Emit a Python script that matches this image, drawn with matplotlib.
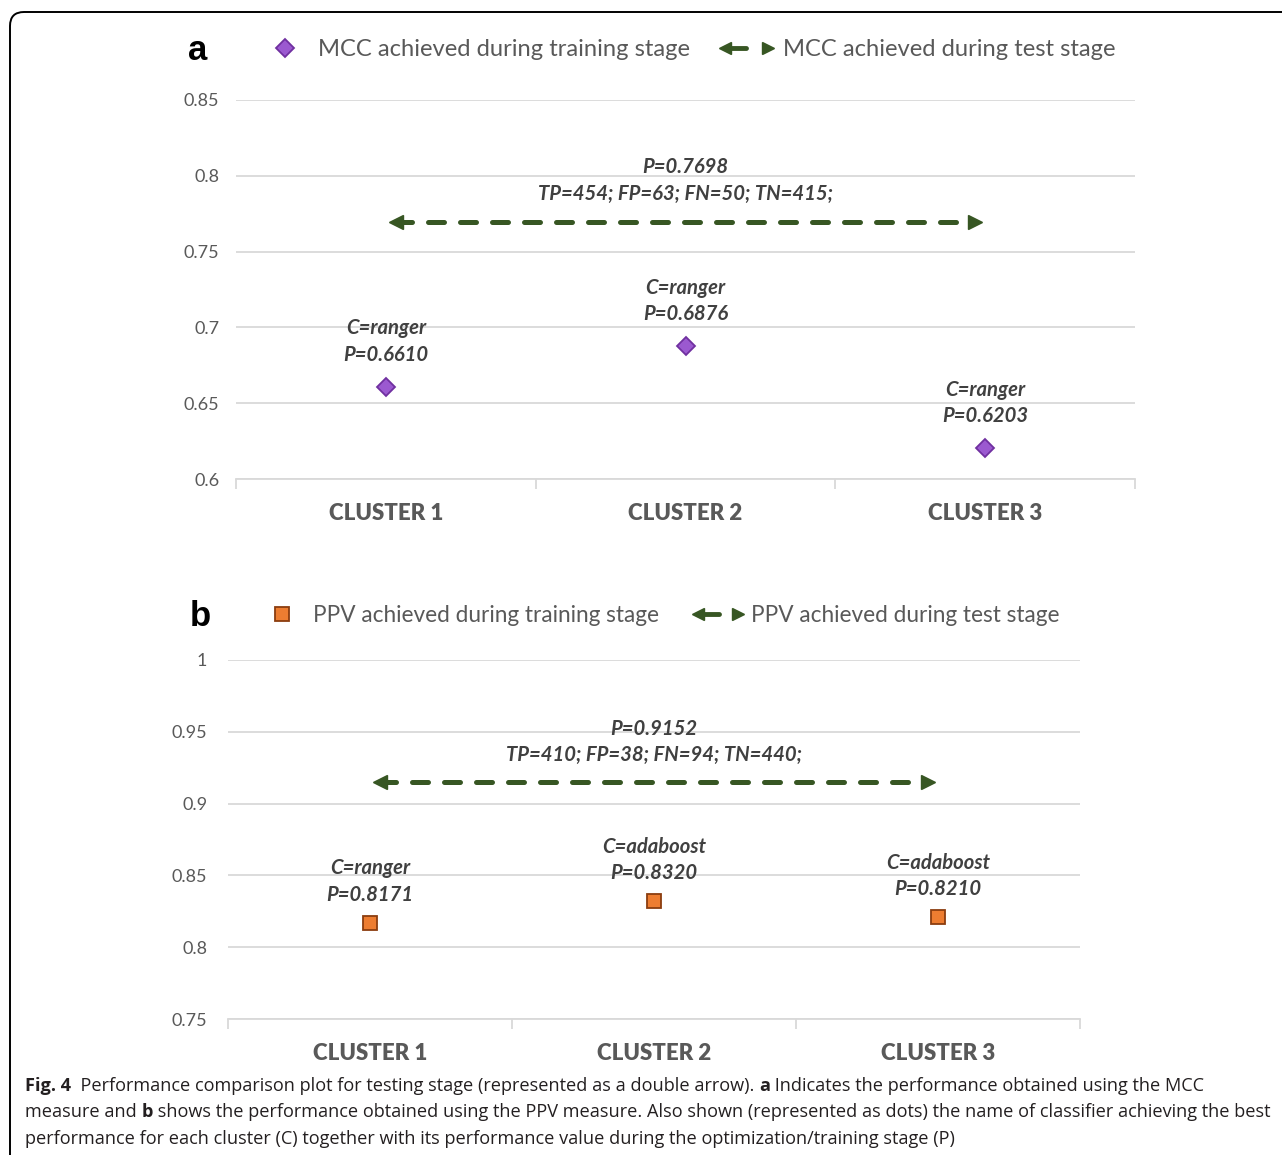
import numpy as np
import matplotlib
matplotlib.use('Agg')
import matplotlib.pyplot as plt
from matplotlib.lines import Line2D
from matplotlib.patches import FancyBboxPatch

# data
clusters = ['CLUSTER 1', 'CLUSTER 2', 'CLUSTER 3']
mcc_train = [0.6610, 0.6876, 0.6203]
mcc_clf = ['ranger', 'ranger', 'ranger']
mcc_test = 0.7698
mcc_conf = 'TP=454; FP=63; FN=50; TN=415;'
ppv_train = [0.8171, 0.8320, 0.8210]
ppv_clf = ['ranger', 'adaboost', 'adaboost']
ppv_test = 0.9152
ppv_conf = 'TP=410; FP=38; FN=94; TN=440;'

mcc_ticks = [0.6, 0.65, 0.7, 0.75, 0.8, 0.85]
ppv_ticks = [0.75, 0.8, 0.85, 0.9, 0.95, 1.0]

W, H = 1282, 1155
GRID = '#d9d9d9'
TXT = '#404040'
LEG = '#595959'
GREEN = '#375623'
CHART_FONT = 'Lato'
ANN = 14.6

fig = plt.figure(figsize=(W / 100, H / 100), dpi=100)


def px(x, y):
    # pixel (from top-left) to figure coords
    return x / W, 1 - y / H


def panel(rect, train, clf, test, conf, ticks, marker, mfc, mec, ms, lab_off, tick_pad, top_off):
    ax = fig.add_axes(rect)
    xs = np.arange(len(clusters)) + 0.5
    ax.set_xlim(0, len(clusters))
    ax.set_ylim(ticks[0], ticks[-1])
    ax.set_yticks(ticks)
    ax.set_yticklabels(['%g' % t for t in ticks], fontsize=13, color=LEG, family=CHART_FONT)
    ax.tick_params(axis='y', length=0, pad=tick_pad)
    ax.set_xticks(np.arange(len(clusters) + 1))
    ax.set_xticklabels([])
    ax.set_xticks(xs, minor=True)
    ax.set_xticklabels(clusters, minor=True, fontsize=16, fontweight='heavy', color=LEG, family=CHART_FONT)
    ax.tick_params(axis='x', which='major', length=7, color=GRID, width=1.3, direction='out')
    ax.tick_params(axis='x', which='minor', length=0, pad=17.5)
    for s in ['top', 'right', 'left']:
        ax.spines[s].set_visible(False)
    ax.spines['bottom'].set_color(GRID)
    ax.spines['bottom'].set_linewidth(1.3)
    ax.grid(axis='y', color=GRID, linewidth=1.3)
    ax.set_axisbelow(True)

    # test stage double arrow
    d = 0.035
    ax.plot([xs[0] + d, xs[-1] - d], [test, test], color=GREEN, lw=3.6,
            dashes=(3.2, 3.2), dash_capstyle='round', zorder=3)
    ax.plot([xs[0] + d], [test], marker='<', color=GREEN, ms=10, zorder=4)
    ax.plot([xs[-1] - d], [test], marker='>', color=GREEN, ms=10, zorder=4)
    ax.annotate('P=%.4f' % test, (xs[1], test), xytext=(0, top_off + 19), textcoords='offset points',
                ha='center', va='center', fontsize=ANN, fontweight='bold', style='italic',
                color=TXT, family=CHART_FONT)
    ax.annotate(conf, (xs[1], test), xytext=(0, top_off), textcoords='offset points',
                ha='center', va='center', fontsize=ANN, fontweight='bold', style='italic',
                color=TXT, family=CHART_FONT)

    # training stage points
    ax.plot(xs, train, ls='none', marker=marker, mfc=mfc, mec=mec, ms=ms, mew=1.3, zorder=4)
    for x, v, c in zip(xs, train, clf):
        ax.annotate('P=%.4f' % v, (x, v), xytext=(0, lab_off), textcoords='offset points',
                    ha='center', va='center', fontsize=ANN, fontweight='bold', style='italic',
                    color=TXT, family=CHART_FONT)
        ax.annotate('C=' + c, (x, v), xytext=(0, lab_off + 19), textcoords='offset points',
                    ha='center', va='center', fontsize=ANN, fontweight='bold', style='italic',
                    color=TXT, family=CHART_FONT)
    return ax


def legend(y, letter, lx, m1x, marker, mfc, mec, ms, t1x, t1, ax0, tri_x, t2x, t2, fs):
    fig.text(*px(lx, y + 2), letter, ha='center', va='center', fontsize=25,
             fontweight='bold', family='Liberation Sans')
    fig.add_artist(Line2D([m1x / W], [1 - y / H], marker=marker, mfc=mfc, mec=mec, ms=ms,
                          mew=1.3, ls='none', transform=fig.transFigure))
    fig.text(*px(t1x, y + 2), t1, ha='left', va='center', fontsize=fs, color=LEG, family=CHART_FONT)
    # small arrow symbol
    fig.add_artist(Line2D([(ax0 + 8) / W, (ax0 + 26) / W], [1 - y / H, 1 - y / H], color=GREEN,
                          lw=3.5, solid_capstyle='round', transform=fig.transFigure))
    fig.add_artist(Line2D([(ax0 + 5) / W], [1 - y / H], marker='<', color=GREEN, ms=8,
                          ls='none', transform=fig.transFigure))
    fig.add_artist(Line2D([tri_x / W], [1 - y / H], marker='>', color=GREEN, ms=9,
                          ls='none', transform=fig.transFigure))
    fig.text(*px(t2x, y + 2), t2, ha='left', va='center', fontsize=fs, color=LEG, family=CHART_FONT)


# panel a
l, t = px(236, 100)
r, b = px(1135, 479)
panel([l, b, r - l, t - b], mcc_train, mcc_clf, mcc_test, mcc_conf, mcc_ticks,
      'D', '#9b59d0', '#7030a0', 9.5, 23, 12, 20)
legend(48, 'a', 198, 285, 'D', '#9b59d0', '#7030a0', 9, 318,
       'MCC achieved during training stage', 720, 768, 783, 'MCC achieved during test stage', 17.1)

# panel b
l, t = px(228, 660)
r, b = px(1080, 1019)
panel([l, b, r - l, t - b], ppv_train, ppv_clf, ppv_test, ppv_conf, ppv_ticks,
      's', '#ed7d31', '#8b3d0f', 10, 20, 15, 19)
legend(614, 'b', 200, 282, 's', '#ed7d31', '#8b3d0f', 10, 313,
       'PPV achieved during training stage', 693, 738, 751, 'PPV achieved during test stage', 16.3)

# outer rounded frame
frame = FancyBboxPatch((10, -60), W + 100, H - 12 + 60, boxstyle='round,pad=0,rounding_size=14',
                       fill=False, ec='black', lw=1.4, transform=None)
fig.add_artist(frame)

# caption with bold runs
cap_lines = [
    [('Fig. 4', True), ('  Performance comparison plot for testing stage (represented as a double arrow). ', False),
     ('a', True), (' Indicates the performance obtained using the MCC', False)],
    [('measure and ', False), ('b', True),
     (' shows the performance obtained using the PPV measure. Also shown (represented as dots) the name of classifier achieving the best', False)],
    [('performance for each cluster (C) together with its performance value during the optimization/training stage (P)', False)],
]
cap_y = [1086, 1112, 1139]
renderer = fig.canvas.get_renderer()


def draw_line(runs, y, size):
    x = 25
    arts = []
    for s, bold in runs:
        tx = fig.text(x / W, 1 - y / H, s, ha='left', va='center', fontsize=size,
                      fontweight='bold' if bold else 'normal', family='Open Sans', color='#231f20')
        bb = tx.get_window_extent(renderer)
        x += bb.width
        arts.append(tx)
    return arts, x - 25


# fit font size so the second line spans the column
arts, w = draw_line(cap_lines[1], cap_y[1], 12)
for a in arts:
    a.remove()
size = 12 * 1238 / w
for runs, y in zip(cap_lines, cap_y):
    draw_line(runs, y, size)

fig.savefig('out.png', dpi=100)
